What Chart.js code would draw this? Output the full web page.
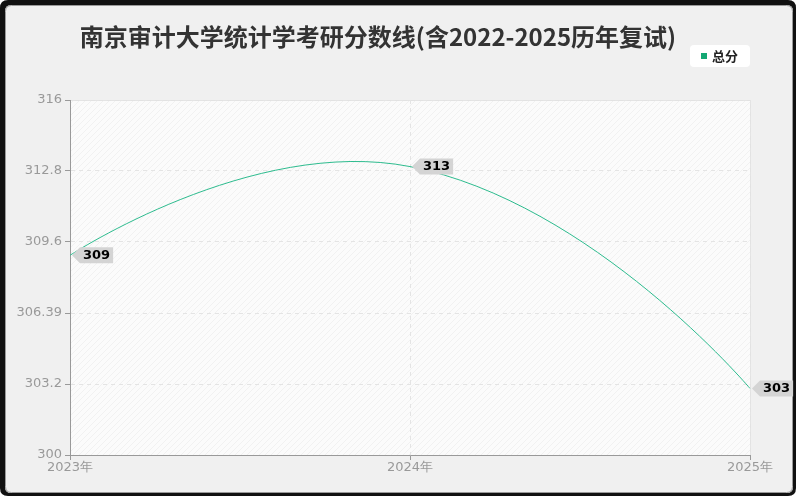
<!DOCTYPE html>
<html>
<head>
<meta charset="utf-8">
<script src="https://cdn.jsdelivr.net/npm/chart.js@4"></script>
<style>
  html, body { margin: 0; padding: 0; background: #fff; }
  #wrap { width: 800px; height: 500px; }
</style>
</head>
<body>
<div id="wrap"><canvas id="scoreChart" width="800" height="500"></canvas></div>
<script>
        // data
        var years = ['2023年', '2024年', '2025年'];
        var totalScores = [309, 313, 303];
        var yTickValues = [300, 303.2, 306.4, 309.6, 312.8, 316];
        var yTickLabels = ['300', '303.2', '306.39', '309.6', '312.8', '316'];
        var chartTitle = '南京审计大学统计学考研分数线(含2022-2025历年复试)';
        var seriesName = '总分';

        function roundRect(ctx, x, y, w, h, r) {
            ctx.beginPath();
            ctx.moveTo(x + r, y);
            ctx.lineTo(x + w - r, y);
            ctx.quadraticCurveTo(x + w, y, x + w, y + r);
            ctx.lineTo(x + w, y + h - r);
            ctx.quadraticCurveTo(x + w, y + h, x + w - r, y + h);
            ctx.lineTo(x + r, y + h);
            ctx.quadraticCurveTo(x, y + h, x, y + h - r);
            ctx.lineTo(x, y + r);
            ctx.quadraticCurveTo(x, y, x + r, y);
            ctx.closePath();
        }

        // hatch pattern for plot background
        function makeHatch(ctx) {
            var c = document.createElement('canvas');
            c.width = 6; c.height = 6;
            var p = c.getContext('2d');
            p.fillStyle = '#fbfbfb';
            p.fillRect(0, 0, 6, 6);
            p.strokeStyle = '#f1f1f1';
            p.lineWidth = 1;
            p.beginPath();
            p.moveTo(0, 6); p.lineTo(6, 0);
            p.moveTo(-1, 1); p.lineTo(1, -1);
            p.moveTo(5, 7); p.lineTo(7, 5);
            p.stroke();
            return ctx.createPattern(c, 'repeat');
        }

        var framePlugin = {
            id: 'frame',
            beforeDraw: function (chart) {
                var ctx = chart.ctx, a = chart.chartArea;
                ctx.save();
                ctx.fillStyle = '#ffffff';
                ctx.fillRect(0, 0, 800, 500);
                ctx.fillStyle = '#111111';
                roundRect(ctx, 0, 0, 796, 496, 8);
                ctx.fill();
                ctx.fillStyle = '#f0f0f0';
                roundRect(ctx, 5, 5, 788, 488, 6);
                ctx.fill();
                ctx.strokeStyle = '#9a9a9a';
                ctx.lineWidth = 1;
                roundRect(ctx, 5.5, 5.5, 787, 487, 6);
                ctx.stroke();

                // plot background
                ctx.fillStyle = makeHatch(ctx);
                ctx.fillRect(a.left, a.top, a.right - a.left, a.bottom - a.top);
                ctx.strokeStyle = '#e2e2e2';
                ctx.beginPath();
                ctx.moveTo(a.left, a.top + 0.5);
                ctx.lineTo(a.right + 0.5, a.top + 0.5);
                ctx.lineTo(a.right + 0.5, a.bottom);
                ctx.stroke();

                // title
                ctx.fillStyle = '#333333';
                ctx.font = 'bold 24px "Noto Sans CJK SC", sans-serif';
                ctx.textAlign = 'center';
                ctx.textBaseline = 'middle';
                ctx.fillText(chartTitle, 378, 37);

                // legend
                ctx.fillStyle = '#ffffff';
                roundRect(ctx, 690, 45, 60, 22, 4);
                ctx.fill();
                ctx.fillStyle = '#14a874';
                ctx.fillRect(701, 53, 6, 6);
                ctx.fillStyle = '#222222';
                ctx.font = 'bold 13px "Noto Sans CJK SC", sans-serif';
                ctx.textAlign = 'left';
                ctx.fillText(seriesName, 712, 56);
                ctx.restore();
            }
        };

        // end points use themselves as outer control point (smooth line look)
        var smoothEndsPlugin = {
            id: 'smoothEnds',
            beforeDatasetsDraw: function (chart) {
                var meta = chart.getDatasetMeta(0);
                meta.dataset.updateControlPoints(chart.chartArea, 'x');
                var pts = meta.data;
                var first = pts[0], last = pts[pts.length - 1];
                first.cp2x = first.x; first.cp2y = first.y;
                last.cp1x = last.x; last.cp1y = last.y;
                meta.dataset._path = undefined;
            }
        };

        var labelPlugin = {
            id: 'pointLabels',
            afterDatasetsDraw: function (chart) {
                var ctx = chart.ctx;
                var meta = chart.getDatasetMeta(0);
                ctx.save();
                ctx.font = 'bold 13px "DejaVu Sans", sans-serif';
                meta.data.forEach(function (pt, i) {
                    var txt = String(totalScores[i]);
                    var w = ctx.measureText(txt).width + 6;
                    var x = pt.x, y = pt.y, h = 16;
                    ctx.fillStyle = '#d4d4d4';
                    ctx.beginPath();
                    ctx.moveTo(x + 2, y);
                    ctx.lineTo(x + 10, y - h / 2);
                    ctx.lineTo(x + 10 + w, y - h / 2);
                    ctx.lineTo(x + 10 + w, y + h / 2);
                    ctx.lineTo(x + 10, y + h / 2);
                    ctx.closePath();
                    ctx.fill();
                    ctx.fillStyle = '#000000';
                    ctx.textAlign = 'center';
                    ctx.textBaseline = 'middle';
                    ctx.fillText(txt, x + 10 + w / 2, y);
                });
                ctx.restore();
            }
        };

        var ctx1 = document.getElementById('scoreChart').getContext('2d');
        var scoreChart = new Chart(ctx1, {
            type: 'line',
            data: {
                labels: years,
                datasets: [{
                    label: seriesName,
                    data: totalScores,
                    borderColor: '#2dbb8e',
                    borderWidth: 1,
                    pointRadius: 0,
                    tension: 0.5,
                    fill: false
                }]
            },
            options: {
                responsive: false,
                animation: false,
                devicePixelRatio: 1,
                layout: { padding: { top: 100, right: 50, left: 0, bottom: 0 } },
                plugins: {
                    legend: { display: false },
                    title: { display: false },
                    tooltip: { enabled: false }
                },
                scales: {
                    x: {
                        offset: false,
                        grid: { color: '#e4e4e4', tickLength: 5, tickColor: '#999999', tickBorderDash: [] },
                        border: { color: '#999999', dash: [4, 4] },
                        ticks: { color: '#999999', font: { family: 'DejaVu Sans', size: 13 }, padding: 0, maxRotation: 0 },
                        afterFit: function (s) { s.height = 45; }
                    },
                    y: {
                        min: 300,
                        max: 316,
                        afterBuildTicks: function (s) {
                            s.ticks = yTickValues.map(function (v) { return { value: v }; });
                        },
                        grid: { color: '#e4e4e4', tickLength: 5, tickColor: '#999999', tickBorderDash: [] },
                        border: { color: '#999999', dash: [4, 4] },
                        ticks: {
                            color: '#999999',
                            font: { family: 'DejaVu Sans', size: 13 },
                            padding: 3,
                            callback: function (v, i) { return yTickLabels[i]; }
                        },
                        afterFit: function (s) { s.width = 70; }
                    }
                }
            },
            plugins: [framePlugin, smoothEndsPlugin, labelPlugin]
        });
</script>
</body>
</html>
